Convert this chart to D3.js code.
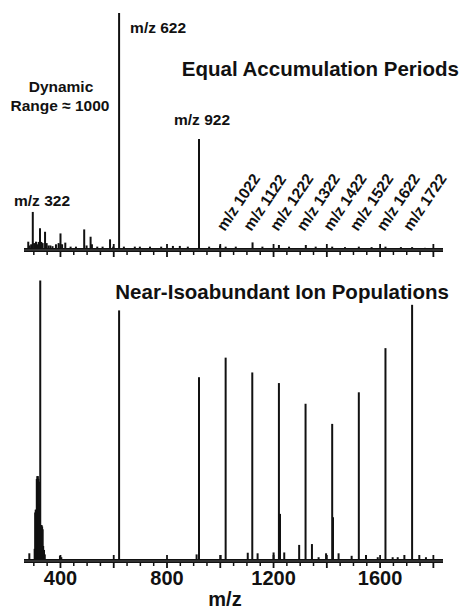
<!DOCTYPE html>
<html><head><meta charset="utf-8">
<script src="https://cdn.jsdelivr.net/npm/d3@7"></script>
<style>
html,body{margin:0;padding:0;background:#fff;}
svg{display:block;}
text{font-family:"Liberation Sans",Arial,sans-serif;fill:#111;}
</style></head>
<body>
<svg id="c" width="462" height="613"></svg>
<script>
// ---- data (m/z, relative intensity %) ----
const topMz  = [281,286,292,298,303,310,315,320,325,330,335,344,350,357,364,372,385,395,402,408,420,440,460,491,500,515,520,540,560,588,600,622,640,681,700,738,780,824,850,880,922,960,1001,1022,1060,1123,1160,1222,1260,1323,1360,1422,1470,1522,1570,1622,1680,1722,1770];
const topInt = [3.1,1.5,2,15.7,2.5,3.1,2,3,8.8,3,2.5,7.3,2.5,1.5,1.5,1.2,2,2.5,6.6,2,2.7,1,1,8.3,1.5,5.2,2,1,1,4.1,1,100,1,1,1,1,1,1.3,1.3,1,46.6,1,1.5,1,1,2.8,1,1.7,1,1.7,1,1,0.8,1,0.8,1,0.8,0.8,0.5];

const botMz  = [285,305,307,309,311,313,315,317,319,321,323,326,329,331,333,335,337,340,343,400,405,622,913,922,1003,1022,1105,1122,1142,1202,1222,1226,1242,1298,1322,1346,1371,1399,1422,1425,1446,1495,1522,1549,1593,1622,1649,1668,1693,1722,1749,1774];
const botInt = [2.4,4,17,18,18,29,30,30,29,28,20,100,12.5,12.5,12,11,5,3.6,2,1.5,1,89.3,2,65.4,1.8,72.4,2.6,67.1,2.4,2.7,63.3,16.5,2.7,5.4,55.9,5.7,1,2.4,48.7,15.3,2.4,1.5,60,1.8,1,75.8,1,1,1.8,91.3,1.8,1];

const majorTicks = [400,600,800,1000,1200,1400,1600,1800];
const minorTicks = [300,350,450,500,550,650,700,750,850,900,950,1050,1100,1150,1250,1300,1350,1450,1500,1550,1650,1700,1750];
const tickLabels = [400,800,1200,1600];

const rotLabelMz = [1022,1122,1222,1322,1422,1522,1622,1722];
const rotLabels  = ["m/z 1022","m/z 1122","m/z 1222","m/z 1322","m/z 1422","m/z 1522","m/z 1622","m/z 1722"];

// ---- drawing ----
const svg = d3.select("#c");
svg.append("rect").attr("width",462).attr("height",613).attr("fill","#fff");

const x = d3.scaleLinear().domain([265,1838]).range([24,443]);
const yTop = d3.scaleLinear().domain([0,100]).range([249,13]);
const yBot = d3.scaleLinear().domain([0,100]).range([560,280.5]);

function panel(mz, inten, y, base, showLabels){
  const g = svg.append("g");
  g.selectAll("line.pk").data(mz).join("line").attr("class","pk")
    .attr("x1",d=>x(d)).attr("x2",d=>x(d))
    .attr("y1",y(0)).attr("y2",(d,i)=>y(inten[i]))
    .attr("stroke","#111").attr("stroke-width",2);
  g.append("line").attr("x1",x.range()[0]).attr("x2",x.range()[1])
    .attr("y1",base+1).attr("y2",base+1).attr("stroke","#111").attr("stroke-width",4);
  g.append("line").attr("x1",x.range()[0]).attr("x2",x.range()[1])
    .attr("y1",base+1).attr("y2",base+1).attr("stroke","#666").attr("stroke-width",0.8);
  const axM = d3.axisBottom(x).tickValues(majorTicks).tickSize(5).tickFormat("");
  const gM = g.append("g").attr("transform",`translate(0,${base+3})`).call(axM);
  gM.select(".domain").remove();
  gM.selectAll(".tick line").attr("stroke","#111").attr("stroke-width",1.8);
  const axU = d3.axisTop(x).tickValues(majorTicks).tickSize(4).tickFormat("");
  const gU = g.append("g").attr("transform",`translate(0,${base-1})`).call(axU);
  gU.select(".domain").remove();
  gU.selectAll(".tick line").attr("stroke","#111").attr("stroke-width",1.8);
  const axm = d3.axisBottom(x).tickValues(minorTicks).tickSize(3).tickFormat("");
  const gm = g.append("g").attr("transform",`translate(0,${base+3})`).call(axm);
  gm.select(".domain").remove();
  gm.selectAll(".tick line").attr("stroke","#111").attr("stroke-width",1.5);
  if(showLabels){
    const axL = d3.axisBottom(x).tickValues(tickLabels).tickSize(0).tickPadding(0).tickFormat(d3.format("d"));
    const gL = g.append("g").attr("transform",`translate(0,${base})`).call(axL);
    gL.select(".domain").remove();
    gL.selectAll(".tick text").attr("y",25).attr("dy",0)
      .style("font-size","20px").style("font-weight","bold")
      .style("font-family","'Liberation Sans',Arial,sans-serif")
      .attr("fill","#111");
  }
}

panel(topMz, topInt, yTop, 249, false);
panel(botMz, botInt, yBot, 560, true);

const bold = (t,xp,yp,size,anchor)=>svg.append("text").attr("x",xp).attr("y",yp)
  .attr("text-anchor",anchor||"start").style("font-size",size+"px").style("font-weight","bold").text(t);

bold("m/z 622", x(622)+11, 32.5, 15.5);
bold("Equal Accumulation Periods", 459, 76, 20.5, "end");
bold("Dynamic", 61, 91.5, 15.5, "middle");
bold("Range \u2248 1000", 60, 110.5, 15.5, "middle");
bold("m/z 922", 174, 124.5, 15.5);
bold("m/z 322", 14, 206, 15.5);

svg.append("g").selectAll("text").data(rotLabelMz).join("text")
  .attr("transform",d=>`translate(${x(d)-1},232) rotate(-56)`)
  .style("font-size","15.5px").style("font-weight","bold")
  .text((d,i)=>rotLabels[i]);

bold("Near-Isoabundant Ion Populations", 449, 299, 20.5, "end");

bold("m/z", 225, 606, 20, "middle");
</script>
</body></html>
